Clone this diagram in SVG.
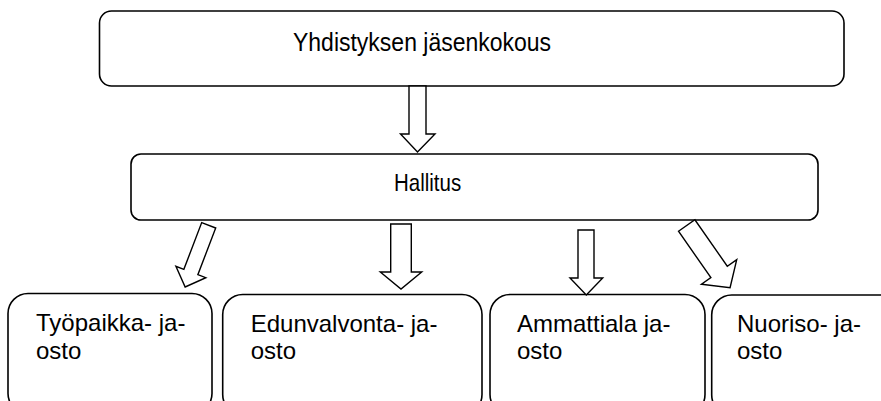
<svg xmlns="http://www.w3.org/2000/svg" width="881" height="401" viewBox="0 0 881 401">
<style>
.box{fill:#fff;stroke:#000;stroke-width:1.6}
.arr{fill:#fff;stroke:#000;stroke-width:1.4;stroke-linejoin:miter}
.t{font-family:"Liberation Sans",Arial,sans-serif;fill:#000}
</style>
<rect width="881" height="401" fill="#fff"/>
<g id="node-kokous">
<rect class="box" x="99.5" y="11" width="744.5" height="75" rx="12"/>
<text class="t" transform="translate(293,51) scale(1,1.15)" x="0" y="0" font-size="23">Yhdistyksen jäsenkokous</text>
</g>
<g id="node-hallitus">
<rect class="box" x="131" y="154" width="687" height="66" rx="10"/>
<text class="t" transform="translate(394,191) scale(1,1.15)" x="0" y="0" font-size="20.5">Hallitus</text>
</g>
<g id="node-tyopaikka">
<rect class="box" x="8" y="293.5" width="204" height="120" rx="20"/>
<text class="t" font-size="24"><tspan x="36" y="331">Työpaikka- ja-</tspan><tspan x="36" y="358.6">osto</tspan></text>
</g>
<g id="node-edunvalvonta">
<rect class="box" x="222.7" y="294.5" width="259.3" height="120" rx="20"/>
<text class="t" font-size="24"><tspan x="250.7" y="331.5">Edunvalvonta- ja-</tspan><tspan x="250.7" y="359">osto</tspan></text>
</g>
<g id="node-ammattiala">
<rect class="box" x="490" y="294.5" width="215" height="120" rx="20"/>
<text class="t" font-size="24"><tspan x="517" y="331.5">Ammattiala ja-</tspan><tspan x="517" y="359">osto</tspan></text>
</g>
<g id="node-nuoriso">
<rect class="box" x="711.7" y="295" width="200" height="120" rx="20"/>
<text class="t" font-size="24"><tspan x="737" y="331.5">Nuoriso- ja-</tspan><tspan x="737" y="359">osto</tspan></text>
</g>
<g id="connectors">
<polygon class="arr" points="409,86 426,86 426,134 435,134 417.5,152 400.5,134 409,134"/>
<polygon class="arr" transform="translate(208.7,225.3) rotate(20.9)" points="-7.5,0 7.5,0 7.5,50 16,50 0,66 -16,50 -7.5,50"/>
<polygon class="arr" points="390.7,224 411.3,224 411.3,272 421.7,272 401,289 380.3,272 390.7,272"/>
<polygon class="arr" points="578,230 594,230 594,278 602.7,278 586.3,295 570,278 578,278"/>
<polygon class="arr" transform="translate(686.7,225.5) rotate(-34.9)" points="-10,0 10,0 10,56.6 21.5,56.6 0,75.8 -21.5,56.6 -10,56.6"/>
</g>
</svg>
